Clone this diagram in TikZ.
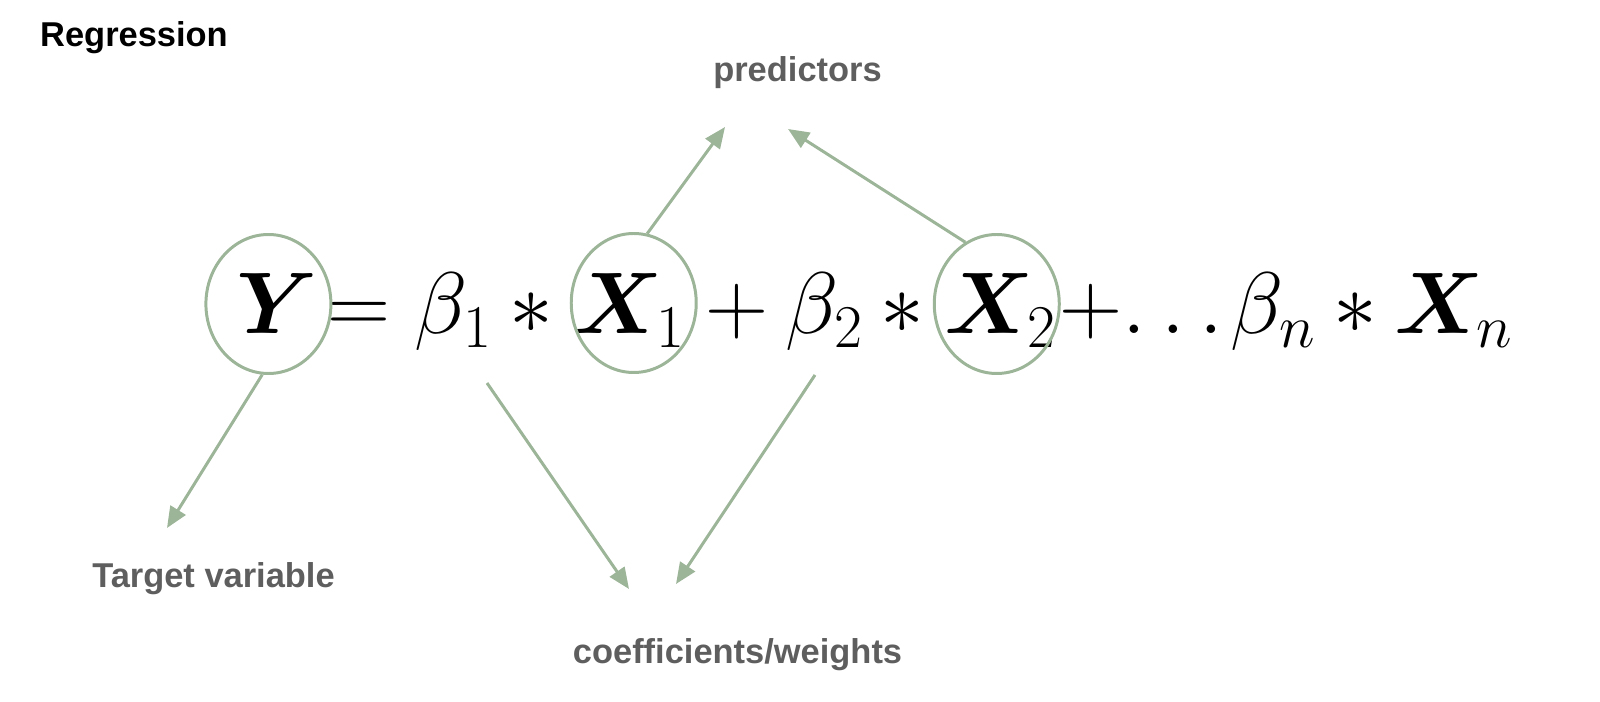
\documentclass[tikz,border=0pt]{standalone}
\usepackage{amsmath,bm}
\usepackage{fontspec}
\newfontfamily\labelfont{Liberation Sans}
\usetikzlibrary{arrows.meta,positioning,shapes.geometric}
\definecolor{sage}{HTML}{9CB497}
\definecolor{labelgray}{HTML}{5E5E5E}
\newcommand\eqfont{\fontsize{24}{29}\selectfont\medmuskip=3.5mu\relax}

\begin{document}
\begin{tikzpicture}[line width=0.85pt,
   pointer/.style={draw=sage, -{Triangle[length=6pt,width=5pt]}},
   eq/.style={inner sep=0pt, anchor=base west, font=\eqfont},
   ring/.style={ellipse, draw=sage, inner sep=0pt, minimum width=1.25cm, minimum height=1.39cm},
   lbl/.style={anchor=base, inner sep=0pt, font=\labelfont\bfseries\fontsize{9.8}{12}\selectfont, text=labelgray}]
\useasboundingbox (0,0) rectangle (16,-7.02);

% the equation
\node [eq] (Y) at (2.35,-3.34) {$\bm{Y}\mkern-3.6mu$};
\node [eq] (b1) at (Y.base east) {${}=\beta_1*{}$};
\node [eq] (X1) at (b1.base east) {$\bm{X}_1$};
\node [eq] (b2) at (X1.base east) {${}+\beta_2*{}$};
\node [eq] (X2) at (b2.base east) {$\bm{X}_2$};
\node [eq] (rest) at (X2.base east) {${+}\!\ldots\mkern-1.5mu\beta_n*\bm{X}_n$};

\node [ring] (Yr) at ([yshift=3.0mm]Y.base) {};
\node [ring] (X1r) at ([shift={(0.4mm,3.1mm)}]X1.base) {};
\node [ring] (X2r) at ([shift={(-0.4mm,3.0mm)}]X2.base) {};

% labels
\node [lbl, text=black] (title) at (1.34,-0.47) {Regression};
\node [lbl] (pred) at (7.975,-0.82) {predictors};
\node [lbl] (target) at (2.135,-5.87) {Target variable};
\node [lbl] (coef) at (7.375,-6.63) {coefficients/weights};

\coordinate (s1) at (4.87,-3.83);
\coordinate (s2) at (8.15,-3.75);
\coordinate (tY) at (1.67,-5.28);
\coordinate (tc1) at (6.29,-5.89);
\coordinate (tc2) at (6.76,-5.84);
\coordinate (tp1) at (7.25,-1.27);
\coordinate (tp2) at (7.88,-1.29);

\draw [pointer] (Yr.265) -- (tY);
\draw [pointer] (s1) -- (tc1);
\draw [pointer] (s2) -- (tc2);
\draw [pointer] (X1r.79) -- (tp1);
\draw [pointer] (X2r.117) -- (tp2);
\end{tikzpicture}
\end{document}
